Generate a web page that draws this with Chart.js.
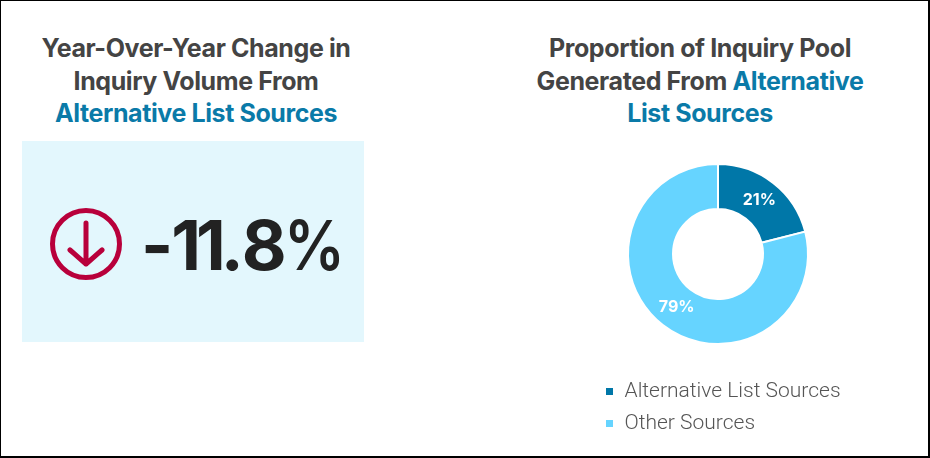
<!DOCTYPE html>
<html>
<head>
<meta charset="utf-8">
<script src="https://cdn.jsdelivr.net/npm/chart.js@4.4.1/dist/chart.umd.min.js"></script>
<style>
    body { margin: 0; background: #fff; }
    #page { position: relative; width: 930px; height: 458px; overflow: hidden; font-family: Inter, Roboto, sans-serif; }
    #frame { position: absolute; left: 0; top: 0; width: 930px; height: 458px; box-sizing: border-box;
             border-left: 1px solid #000; border-top: 1px solid #000; border-right: 2px solid #000; border-bottom: 2px solid #000; }
    .title { position: absolute; top: 32px; text-align: center; font-weight: 700; font-size: 25px;
             line-height: 32.5px; color: #444; letter-spacing: -0.4px; }
    .title .hl { color: #0a7aa8; }
    #leftTitle { left: 0; width: 392px; }
    #rightTitle { left: 500px; width: 400px; }
    #statBox { position: absolute; left: 22px; top: 141px; width: 342px; height: 201px; background: #e3f7fd; }
    #statIcon { position: absolute; left: 46px; top: 204px; }
    #statValue { position: absolute; left: 141px; top: 211px; font-size: 69px; line-height: 69px;
                 font-weight: 700; color: #222; white-space: nowrap; }
    #statValue span { display: inline-block; }
    #statValue .pct { transform: scaleX(0.88); transform-origin: left center; font-weight: 600; }
    #pieWrap { position: absolute; left: 594px; top: 138px; width: 248px; height: 306px; }
</style>
</head>
<body>
<div id="page">
    <div class="title" id="leftTitle">Year-Over-Year Change in<br>Inquiry Volume From<br><span class="hl">Alternative List Sources</span></div>
    <div class="title" id="rightTitle">Proportion of Inquiry Pool<br>Generated From <span class="hl">Alternative</span><br><span class="hl">List Sources</span></div>

    <div id="statBox"></div>
    <svg id="statIcon" width="80" height="80" viewBox="0 0 80 80">
        <circle cx="40" cy="40" r="33.5" fill="none" stroke="#b8003b" stroke-width="5"/>
        <path d="M40 19 V60 M24 46 L40 60 L56 46" fill="none" stroke="#b8003b" stroke-width="5"
              stroke-linecap="round" stroke-linejoin="round"/>
    </svg>
    <div id="statValue"></div>

    <div id="pieWrap"><canvas id="poolChart"></canvas></div>
    <div id="frame"></div>
</div>
<script>
const yoyChange = -11.8;
const sourceLabels = ['Alternative List Sources', 'Other Sources'];
const sourceShares = [21, 79];

// big number: tighten the narrow digits a bit so it reads like the original
const tracking = { '-': -2, '1': -5, '.': -2, '8': -3 };
const statEl = document.getElementById('statValue');
(yoyChange.toFixed(1) + '%').split('').forEach(ch => {
    const s = document.createElement('span');
    s.textContent = ch;
    if (ch === '%') s.className = 'pct';
    else s.style.letterSpacing = (tracking[ch] || 0) + 'px';
    statEl.appendChild(s);
});

// white percentage labels in the middle of each slice
const sliceLabels = {
    id: 'sliceLabels',
    afterDatasetsDraw(chart) {
        const ctx = chart.ctx;
        const data = chart.data.datasets[0].data;
        const total = data.reduce((a, b) => a + b, 0);
        chart.getDatasetMeta(0).data.forEach((arc, i) => {
            const pos = arc.tooltipPosition();
            ctx.save();
            ctx.fillStyle = '#fff';
            ctx.font = "700 16px Inter, Roboto, sans-serif";
            ctx.textAlign = 'center';
            ctx.textBaseline = 'middle';
            ctx.fillText(Math.round(data[i] / total * 100) + '%', pos.x, pos.y);
            ctx.restore();
        });
    }
};

new Chart(document.getElementById('poolChart'), {
    type: 'doughnut',
    data: {
        labels: sourceLabels,
        datasets: [{
            data: sourceShares,
            backgroundColor: ['#0077a8', '#66d4ff'],
            borderColor: '#fff',
            borderWidth: 2
        }]
    },
    options: {
        responsive: true,
        maintainAspectRatio: false,
        animation: false,
        events: [],
        cutout: '50%',
        radius: 90,
        plugins: {
            tooltip: { enabled: false },
            legend: {
                position: 'bottom',
                align: 'start',
                labels: {
                    boxWidth: 9,
                    boxHeight: 9,
                    padding: 11,
                    color: '#555',
                    font: { family: 'Roboto, sans-serif', size: 21, weight: 300 }
                }
            }
        }
    },
    plugins: [sliceLabels]
});
</script>
</body>
</html>
